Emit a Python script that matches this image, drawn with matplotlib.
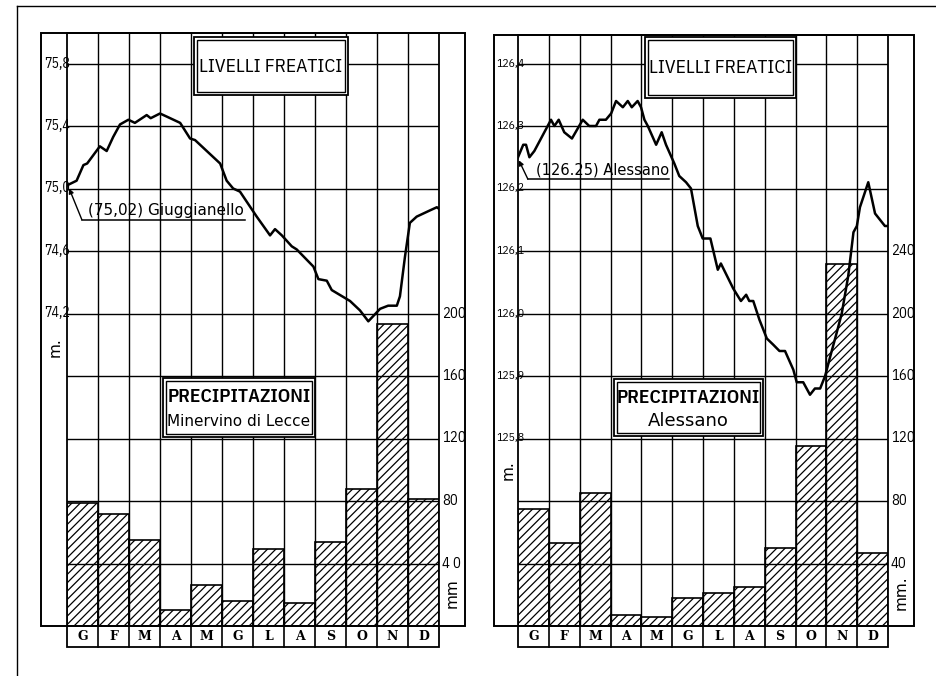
import matplotlib
matplotlib.use('Agg')
import matplotlib.pyplot as plt
from matplotlib.patches import Rectangle
from matplotlib.lines import Line2D
import matplotlib.transforms as mtransforms

NARROW = ['IBM Plex Sans Condensed', 'DejaVu Sans']
plt.rcParams['hatch.linewidth'] = 0.9

months = ['G', 'F', 'M', 'A', 'M', 'G', 'L', 'A', 'S', 'O', 'N', 'D']

# ---- Left panel: Giuggianello (water level, m) / Minervino di Lecce (rain, mm)
left_rain = [79, 72, 55, 10, 26, 16, 49, 15, 54, 88, 193, 81]
left_t = [0, 0.31, 0.53, 0.65, 1.06, 1.28, 1.49, 1.71, 1.98, 2.19, 2.57, 2.70,
          3.00, 3.22, 3.65, 3.97, 4.13, 4.94, 5.15, 5.36, 5.58, 6.12, 6.55,
          6.71, 6.93, 7.25, 7.41, 7.95, 8.11, 8.38, 8.54, 9.13, 9.45, 9.72,
          10.10, 10.36, 10.64, 10.74, 10.90, 11.06, 11.28, 11.71, 11.93, 12.0]
left_level = [75.02, 75.05, 75.15, 75.16, 75.27, 75.24, 75.33, 75.41, 75.44,
              75.42, 75.47, 75.45, 75.48, 75.46, 75.42, 75.32, 75.31, 75.16,
              75.05, 75.00, 74.98, 74.82, 74.70, 74.74, 74.70, 74.63, 74.61,
              74.50, 74.42, 74.41, 74.35, 74.28, 74.22, 74.15, 74.23, 74.25,
              74.25, 74.31, 74.56, 74.78, 74.82, 74.86, 74.88, 74.87]
left_m_ticks = [75.8, 75.4, 75.0, 74.6, 74.2]
left_m_labels = ['75,8', '75,4', '75,0', '74,6', '74,2']
left_mm_ticks = [200, 160, 120, 80, 40]
left_mm_labels = ['200', '160', '120', '80', '4 0']
left_station = '(75,02) Giuggianello'
left_rain_station = 'Minervino di Lecce'

# ---- Right panel: Alessano
right_rain = [75, 53, 85, 7, 6, 18, 21, 25, 50, 115, 232, 47]
right_t = [0, 0.17, 0.26, 0.37, 0.53, 1.07, 1.18, 1.32, 1.50, 1.75, 2.10, 2.31,
           2.53, 2.64, 2.85, 3.02, 3.18, 3.40, 3.56, 3.69, 3.88, 3.99, 4.10,
           4.21, 4.48, 4.66, 4.80, 5.07, 5.23, 5.45, 5.61, 5.83, 5.99, 6.24,
           6.48, 6.58, 6.98, 7.23, 7.40, 7.50, 7.63, 7.83, 8.07, 8.28, 8.48,
           8.66, 8.93, 9.04, 9.25, 9.47, 9.63, 9.80, 9.96, 10.12, 10.34, 10.50,
           10.71, 10.88, 10.99, 11.09, 11.36, 11.58, 11.90, 12.0]
right_level = [126.25, 126.27, 126.27, 126.25, 126.26, 126.31, 126.30, 126.31,
               126.29, 126.28, 126.31, 126.30, 126.30, 126.31, 126.31, 126.32,
               126.34, 126.33, 126.34, 126.33, 126.34, 126.33, 126.31, 126.30,
               126.27, 126.29, 126.27, 126.24, 126.22, 126.21, 126.20, 126.14,
               126.12, 126.12, 126.07, 126.08, 126.04, 126.02, 126.03, 126.02,
               126.02, 125.99, 125.96, 125.95, 125.94, 125.94, 125.91, 125.89,
               125.89, 125.87, 125.88, 125.88, 125.90, 125.93, 125.97, 126.00,
               126.06, 126.13, 126.14, 126.17, 126.21, 126.16, 126.14, 126.14]
right_m_ticks = [126.4, 126.3, 126.2, 126.1, 126.0, 125.9, 125.8]
right_m_labels = ['126,4', '126,3', '126,2', '126,1', '126,0', '125,9', '125,8']
right_mm_ticks = [240, 200, 160, 120, 80, 40]
right_mm_labels = ['240', '200', '160', '120', '80', '40']
right_station = '(126.25) Alessano'
right_rain_station = 'Alessano'

W, H = 936, 676
fig = plt.figure(figsize=(W / 100, H / 100), dpi=100)
fig.patch.set_facecolor('white')


def px_rect(x0, y0, x1, y1):
    return [x0 / W, 1 - y1 / H, (x1 - x0) / W, (y1 - y0) / H]


def dbl_box(ax, t0, t1, y0, y1, dx, dy):
    ax.add_patch(Rectangle((t0, y0), t1 - t0, y1 - y0, facecolor='white',
                           edgecolor='black', lw=1.3, zorder=5))
    ax.add_patch(Rectangle((t0 + dx, y0 + dy), t1 - t0 - 2 * dx, y1 - y0 - 2 * dy,
                           facecolor='none', edgecolor='black', lw=1.0, zorder=5))


def panel(rect_px, rain, t, level, m0, m_per_mm, m_ticks, m_labels, mm_ticks,
          mm_labels, station, rain_station, cfg):
    x0, y0, x1, y1 = rect_px
    ax = fig.add_axes(px_rect(x0, y0, x1, y1))
    wpx = x1 - x0
    hpx = y1 - y0
    mm_top = hpx / 62.5 * 40
    ax.set_xlim(0, 12)
    ax.set_ylim(0, mm_top)
    ax.set_facecolor('none')
    grid_mm = [40 * k for k in range(1, 10)]
    ax.set_yticks(grid_mm)
    ax.set_xticks(range(1, 12))
    ax.tick_params(length=0, labelleft=False, labelbottom=False)
    ax.grid(True, color='black', lw=1.0, zorder=2)
    ax.set_axisbelow(False)
    for s in ax.spines.values():
        s.set_linewidth(1.3)
    # bars
    ax.bar(range(12), rain, width=1, align='edge', facecolor='none',
           edgecolor='black', hatch='////', lw=1.2, zorder=1.5)
    dx = 3 / wpx * 12
    dy = 3 / 62.5 * 40
    # boxes
    lb = cfg['livelli']
    dbl_box(ax, lb[0], lb[1], lb[2], lb[3], dx, dy)
    ax.text((lb[0] + lb[1]) / 2, cfg['livelli_y'], 'LIVELLI FREATICI',
            ha='center', va='center', fontsize=14, family=NARROW, zorder=6)
    pb = cfg['precip']
    dbl_box(ax, pb[0], pb[1], pb[2], pb[3], dx, dy)
    ax.text((pb[0] + pb[1]) / 2, cfg['precip_y'][0], 'PRECIPITAZIONI',
            ha='center', va='center', fontsize=14, family=NARROW,
            fontweight='semibold', zorder=6)
    ax.text((pb[0] + pb[1]) / 2, cfg['precip_y'][1], rain_station,
            ha='center', va='center', fontsize=cfg['rs_size'],
            family=cfg['rs_family'], zorder=6)
    # outer frame with side bands
    fl = cfg['frame'][0]
    fr = cfg['frame'][1]
    ax.add_patch(Rectangle((fl, 0), fr - fl, 1, transform=ax.transAxes,
                           facecolor='none', edgecolor='black', lw=1.4,
                           clip_on=False, zorder=3))
    # month strip
    sh = 21 / hpx
    bt = mtransforms.blended_transform_factory(ax.transData, ax.transAxes)
    ax.add_patch(Rectangle((0, -sh), 12, sh, transform=bt,
                           facecolor='none', edgecolor='black', lw=1.3,
                           clip_on=False))
    for i, mlab in enumerate(months):
        if i > 0:
            ax.add_line(Line2D([i, i], [-sh, 0], transform=bt, color='black',
                               lw=1.2, clip_on=False))
        ax.text(i + 0.5, -sh / 2, mlab, transform=bt, ha='center',
                va='center', fontsize=9, family='DejaVu Serif',
                fontweight='bold')
    # right mm labels
    rt = mtransforms.blended_transform_factory(ax.transAxes, ax.transData)
    for v, lab in zip(mm_ticks, mm_labels):
        ax.text(1.008, v, lab, transform=rt, ha='left', va='center',
                fontsize=10.5, family=NARROW)
    ax.text(cfg['mm_pos'][0], cfg['mm_pos'][1], cfg['mm_text'], transform=rt,
            rotation=90, ha='center', va='center', fontsize=11, family='DejaVu Sans')
    ax.text(cfg['m_pos'][0], cfg['m_pos'][1], 'm.', transform=rt,
            rotation=90, ha='center', va='center', fontsize=11, family='DejaVu Sans')
    # level axis
    ax2 = ax.twinx()
    ax2.set_ylim(m0, m0 + mm_top * m_per_mm)
    ax2.set_yticks([])
    ax2.axis('off')
    ax2.plot(t, level, color='black', lw=1.8, zorder=7)
    lt = mtransforms.blended_transform_factory(ax2.transAxes, ax2.transData)
    for v, lab in zip(m_ticks, m_labels):
        ax2.text(cfg['mlab_x'], v, lab, transform=lt, ha='left', va='center',
                 fontsize=cfg['mlab_size'], family=NARROW)
    # station label
    st = cfg['station']
    ax2.text(st['text_x'], st['y'] + st['dy'], station, ha='left', va='bottom',
             fontsize=st['size'], family='DejaVu Sans', zorder=8)
    ax2.plot([st['u0'], st['u1']], [st['y'], st['y']], color='black', lw=1.1)
    ax2.annotate('', xy=(st['ax'], st['ay']), xytext=(st['u0'], st['y']),
                 arrowprops=dict(arrowstyle='-|>', color='black', lw=1.0,
                                 mutation_scale=7, shrinkA=0, shrinkB=0))
    return ax, ax2


panel((67, 33, 439, 626), left_rain, left_t, left_level, 72.2, 0.01,
      left_m_ticks, left_m_labels, left_mm_ticks, left_mm_labels,
      left_station, left_rain_station,
      dict(livelli=(4.10, 9.06, 339.8, 377.0), livelli_y=358,
           precip=(3.10, 8.0, 121.0, 158.7), precip_y=(146.6, 131.2),
           rs_size=11, rs_family='DejaVu Sans',
           frame=(-26 / 372, 1 + 26 / 372),
           mm_pos=(1.035, 21), mm_text='mm', m_pos=(-0.032, 178.6),
           mlab_x=-0.062, mlab_size=10,
           station=dict(text_x=0.68, y=74.80, dy=0.012, size=11,
                        u0=0.48, u1=5.74, ax=0.07, ay=75.0)))

panel((518, 35, 888, 626), right_rain, right_t, right_level, 125.5, 1 / 400,
      right_m_ticks, right_m_labels, right_mm_ticks, right_mm_labels,
      right_station, right_rain_station,
      dict(livelli=(4.12, 9.02, 338.0, 377.0), livelli_y=357,
           precip=(3.11, 7.95, 121.6, 158.0), precip_y=(146.0, 131.0),
           rs_size=13, rs_family='DejaVu Sans',
           frame=(-24 / 370, 1 + 26 / 370),
           mm_pos=(1.035, 21), mm_text='mm.', m_pos=(-0.027, 99.8),
           mlab_x=-0.059, mlab_size=8.5,
           station=dict(text_x=0.58, y=126.215, dy=0.003, size=10.5,
                        u0=0.32, u1=4.9, ax=0.03, ay=126.245)))

# page border lines of the scan
fig.add_artist(Line2D([17 / W, 1], [1 - 6 / H, 1 - 6 / H], color='black', lw=1.0))
fig.add_artist(Line2D([17 / W, 17 / W], [0, 1 - 6 / H], color='black', lw=1.0))

fig.savefig('out.png', dpi=100, facecolor='white')
